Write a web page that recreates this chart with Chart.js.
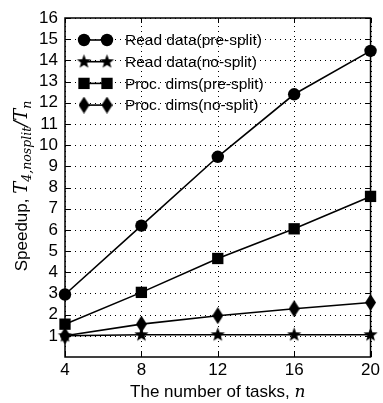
<!DOCTYPE html>
<html>
<head>
<meta charset="utf-8">
<script src="https://cdn.jsdelivr.net/npm/chart.js@4/dist/chart.umd.min.js"></script>
<style>
  html, body { margin: 0; padding: 0; background: #fff; }
  #wrap { width: 383px; height: 403px; }
</style>
</head>
<body>
<div id="wrap"><canvas id="graphCanvas" width="383" height="403"></canvas></div>
<script>
// data
let tasks = [4, 8, 12, 16, 20];
let readPreSplit = [2.95, 6.2, 9.45, 12.4, 14.45];
let readNoSplit = [1.0, 1.05, 1.05, 1.05, 1.05];
let procPreSplit = [1.55, 3.05, 4.65, 6.05, 7.58];
let procNoSplit = [1.0, 1.55, 1.95, 2.28, 2.57];
let labels = ['Read data(pre-split)', 'Read data(no-split)', 'Proc. dims(pre-split)', 'Proc. dims(no-split)'];
let xTicks = [4, 8, 12, 16, 20];
let yTicks = [1, 2, 3, 4, 5, 6, 7, 8, 9, 10, 11, 12, 13, 14, 15, 16];

const FONT = '"Liberation Sans", Arial, sans-serif';

// filled star and tall diamond as point images
function makeStar(r) {
    let c = document.createElement('canvas');
    c.width = c.height = r * 2 + 2;
    let g = c.getContext('2d');
    g.fillStyle = '#000';
    g.beginPath();
    for (let i = 0; i < 10; i++) {
        let a = -Math.PI / 2 + i * Math.PI / 5;
        let rr = i % 2 === 0 ? r : r * 0.42;
        g.lineTo(r + 1 + rr * Math.cos(a), r + 1 + rr * Math.sin(a));
    }
    g.closePath();
    g.fill();
    return c;
}
function makeDiamond(w, h) {
    let c = document.createElement('canvas');
    c.width = w; c.height = h;
    let g = c.getContext('2d');
    g.fillStyle = '#000';
    g.beginPath();
    g.moveTo(w / 2, 0); g.lineTo(w, h / 2); g.lineTo(w / 2, h); g.lineTo(0, h / 2);
    g.closePath();
    g.fill();
    return c;
}
let starImg = makeStar(7.5);
let diamondImg = makeDiamond(11, 17);

let styles = [
    { pointStyle: 'circle', pointRadius: 6.2 },
    { pointStyle: starImg, pointRadius: 7 },
    { pointStyle: 'rect', pointRadius: 8 },
    { pointStyle: diamondImg, pointRadius: 8 }
];
let series = [readPreSplit, readNoSplit, procPreSplit, procNoSplit];

let datasets = series.map(function(vals, k) {
    return {
        label: labels[k],
        data: vals.map(function(v, i) { return { x: tasks[i], y: v }; }),
        borderColor: '#000',
        backgroundColor: '#000',
        borderWidth: 1.6,
        pointStyle: styles[k].pointStyle,
        pointRadius: styles[k].pointRadius,
        pointBorderWidth: 0,
        clip: false
    };
});

// dotted grid drawn under the lines
let gridPlugin = {
    id: 'dotgrid',
    beforeDatasetsDraw: function(chart) {
        let ctx = chart.ctx;
        let a = chart.chartArea;
        let xs = chart.scales.x, ys = chart.scales.y;
        ctx.save();
        ctx.strokeStyle = '#000';
        ctx.lineWidth = 1;
        ctx.setLineDash([1, 4]);
        ctx.beginPath();
        yTicks.forEach(function(t) {
            let y = Math.round(ys.getPixelForValue(t)) + 0.5;
            ctx.moveTo(a.left, y); ctx.lineTo(a.right, y);
        });
        xTicks.forEach(function(t) {
            let x = Math.round(xs.getPixelForValue(t)) + 0.5;
            ctx.moveTo(x, a.bottom); ctx.lineTo(x, a.top);
        });
        ctx.stroke();
        ctx.restore();
    }
};

// box, inner ticks, axis titles and gnuplot-like legend
let framePlugin = {
    id: 'frame',
    afterDatasetsDraw: function(chart) {
        let ctx = chart.ctx;
        let a = chart.chartArea;
        let xs = chart.scales.x, ys = chart.scales.y;
        ctx.save();
        ctx.strokeStyle = '#000';
        ctx.lineWidth = 1.5;
        ctx.strokeRect(a.left, a.top, a.right - a.left, a.bottom - a.top);
        ctx.lineWidth = 1;
        ctx.beginPath();
        yTicks.forEach(function(t) {
            let y = Math.round(ys.getPixelForValue(t)) + 0.5;
            ctx.moveTo(a.left, y); ctx.lineTo(a.left + 5, y);
            ctx.moveTo(a.right, y); ctx.lineTo(a.right - 5, y);
        });
        xTicks.forEach(function(t) {
            let x = Math.round(xs.getPixelForValue(t)) + 0.5;
            ctx.moveTo(x, a.bottom); ctx.lineTo(x, a.bottom - 5);
            ctx.moveTo(x, a.top); ctx.lineTo(x, a.top + 5);
        });
        ctx.stroke();

        // legend
        ctx.font = '15.5px ' + FONT;
        ctx.textBaseline = 'middle';
        ctx.textAlign = 'left';
        chart.data.datasets.forEach(function(ds, k) {
            let y = 40 + k * 21.7;
            let x1 = 84, x2 = 107;
            ctx.lineWidth = 1.6;
            ctx.beginPath(); ctx.moveTo(x1, y); ctx.lineTo(x2, y); ctx.stroke();
            [x1, x2].forEach(function(x) {
                Chart.helpers.drawPoint(ctx, {
                    pointStyle: ds.pointStyle, radius: ds.pointRadius, rotation: 0, borderWidth: 0
                }, x, y);
            });
            ctx.fillStyle = '#000';
            ctx.fillText(ds.label, 125, y + 1);
        });

        // x title
        ctx.font = '17px ' + FONT;
        let t1 = 'The number of tasks, ';
        let w1 = ctx.measureText(t1).width;
        ctx.font = 'italic 17px "DejaVu Serif", serif';
        let w2 = ctx.measureText('n').width;
        let cx = (a.left + a.right) / 2 - (w1 + w2) / 2;
        ctx.textBaseline = 'alphabetic';
        ctx.font = '17px ' + FONT;
        ctx.fillText(t1, cx, 397);
        ctx.font = 'italic 17px "DejaVu Serif", serif';
        ctx.fillText('n', cx + w1, 397);

        // y title, rotated
        ctx.translate(27, 186);
        ctx.rotate(-Math.PI / 2);
        let parts = [
            { t: 'Speedup, ', f: '17px ' + FONT, dy: 0 },
            { t: 'T', f: 'italic 18px "DejaVu Serif", serif', dy: 0 },
            { t: '4,nosplit', f: 'italic 12.5px "DejaVu Serif", serif', dy: 4 },
            { t: '/T', f: 'italic 18px "DejaVu Serif", serif', dy: 0 },
            { t: 'n', f: 'italic 12.5px "DejaVu Serif", serif', dy: 4 }
        ];
        let total = 0;
        parts.forEach(function(p) { ctx.font = p.f; p.w = ctx.measureText(p.t).width; total += p.w; });
        let px = -total / 2;
        parts.forEach(function(p) {
            ctx.font = p.f;
            ctx.fillText(p.t, px, p.dy);
            px += p.w;
        });
        ctx.restore();
    }
};

let graphCanvas = document.getElementById('graphCanvas').getContext('2d');
let lineChart = new Chart(graphCanvas, {
    type: 'line',
    data: { datasets: datasets },
    options: {
        responsive: false,
        animation: false,
        layout: { padding: { top: 18, right: 10, left: 0, bottom: 0 } },
        plugins: { legend: { display: false }, tooltip: { enabled: false } },
        scales: {
            x: {
                type: 'linear',
                min: 4, max: 20,
                afterFit: function(s) { s.height = 46; },
                afterBuildTicks: function(s) { s.ticks = xTicks.map(function(v) { return { value: v }; }); },
                ticks: { color: '#000', font: { family: FONT, size: 17 }, padding: 3, maxRotation: 0, autoSkip: false },
                grid: { display: false, drawTicks: false },
                border: { display: false }
            },
            y: {
                min: 0, max: 16,
                afterFit: function(s) { s.width = 65; },
                afterBuildTicks: function(s) { s.ticks = yTicks.map(function(v) { return { value: v }; }); },
                ticks: { color: '#000', font: { family: FONT, size: 17 }, padding: 7, autoSkip: false },
                grid: { display: false, drawTicks: false },
                border: { display: false }
            }
        }
    },
    plugins: [gridPlugin, framePlugin]
});
</script>
</body>
</html>
